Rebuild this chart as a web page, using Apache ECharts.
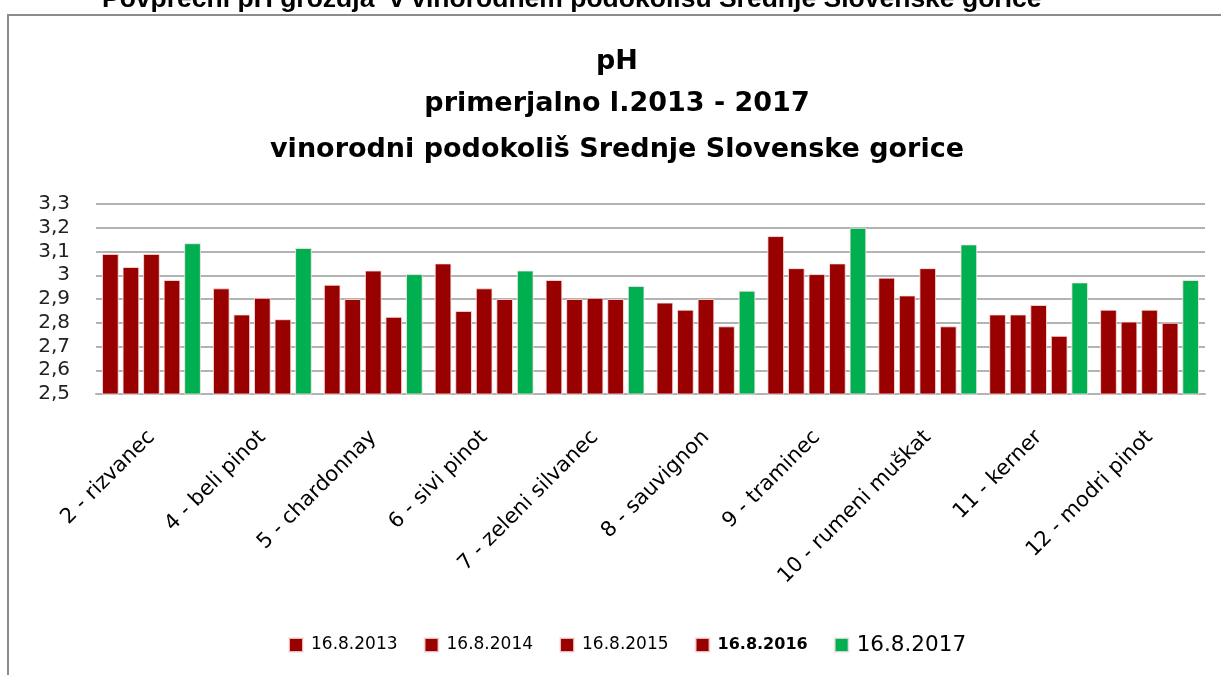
<!DOCTYPE html>
<html>
<head>
<meta charset="utf-8">
<script src="https://cdn.jsdelivr.net/npm/echarts@6/dist/echarts.min.js"></script>
<style>html,body{margin:0;padding:0;background:#fff;}#c{width:1221px;height:675px;}</style>
</head>
<body>
<div id="c"></div>
<script>
const categories = ['2 - rizvanec','4 - beli pinot','5 - chardonnay','6 - sivi pinot','7 - zeleni silvanec','8 - sauvignon','9 - traminec','10 - rumeni muškat','11 - kerner','12 - modri pinot'];
const seriesNames = ['16.8.2013','16.8.2014','16.8.2015','16.8.2016','16.8.2017'];
const v2013 = [3.09, 2.945, 2.96, 3.05, 2.98, 2.885, 3.165, 2.99, 2.835, 2.855];
const v2014 = [3.035, 2.835, 2.90, 2.85, 2.90, 2.855, 3.03, 2.915, 2.835, 2.805];
const v2015 = [3.09, 2.905, 3.02, 2.945, 2.905, 2.90, 3.005, 3.03, 2.875, 2.855];
const v2016 = [2.98, 2.815, 2.825, 2.90, 2.90, 2.785, 3.05, 2.785, 2.745, 2.80];
const v2017 = [3.135, 3.115, 3.005, 3.02, 2.955, 2.935, 3.20, 3.13, 2.97, 2.98];
const seriesValues = [v2013, v2014, v2015, v2016, v2017];
const seriesColors = ['#990000','#990000','#990000','#990000','#00B050'];
const titleLines = ['pH','primerjalno l.2013 - 2017','vinorodni podokoliš Srednje Slovenske gorice'];
const pageHeading = 'Povprečni pH grozdja  v vinorodnem podokolišu Srednje Slovenske gorice';

const chart = echarts.init(document.getElementById('c'), null, {renderer:'canvas'});
const FONT = 'DejaVu Sans';
const option = {
  animation: false,
  backgroundColor: '#fff',
  graphic: [
    {type:'text', x:102, y:13, style:{text:pageHeading, font:'bold 26.5px "Liberation Sans"', fill:'#000', textVerticalAlign:'bottom'}, z:0},
    {type:'rect', shape:{x:8,y:15,width:1400,height:900}, style:{fill:'#fff', stroke:'#8c8c8c', lineWidth:2}, z:-1, silent:true},
    {type:'text', x:617, y:62, style:{text:titleLines[0], font:'bold 27px "DejaVu Sans"', fill:'#000', textAlign:'center', textVerticalAlign:'middle'}},
    {type:'text', x:617, y:104, style:{text:titleLines[1], font:'bold 27px "DejaVu Sans"', fill:'#000', textAlign:'center', textVerticalAlign:'middle'}},
    {type:'text', x:617, y:150, style:{text:titleLines[2], font:'bold 27px "DejaVu Sans"', fill:'#000', textAlign:'center', textVerticalAlign:'middle'}}
  ],
  grid: {left:96, right:16, top:204, bottom:281, containLabel:false},
  legend: {
    left: 283, top: 629,
    icon: 'rect', itemWidth: 14, itemHeight: 14, itemGap: 26,
    data: seriesNames,
    formatter: function(name){ return '{s' + seriesNames.indexOf(name) + '|' + name + '}'; },
    textStyle: {
      fontFamily: FONT, color:'#000',
      rich: {
        s0:{fontSize:17, fontFamily:FONT, padding:[0,0,0,3]},
        s1:{fontSize:17, fontFamily:FONT, padding:[0,0,0,3]},
        s2:{fontSize:17, fontFamily:FONT, padding:[0,0,0,3]},
        s3:{fontSize:16, fontFamily:FONT, fontWeight:'bold', padding:[0,0,0,3]},
        s4:{fontSize:21.5, fontFamily:FONT, padding:[0,0,0,3]}
      }
    }
  },
  xAxis: {
    type:'category', data: categories,
    axisLine:{show:true, lineStyle:{color:'#b3b3b3', width:2}},
    axisTick:{show:false},
    axisLabel:{interval:0, rotate:45, margin:40, fontFamily:FONT, fontSize:21, color:'#000'}
  },
  yAxis: {
    type:'value', min:2.5, max:3.3, interval:0.1,
    axisLine:{show:false}, axisTick:{show:false},
    splitLine:{lineStyle:{color:'#b3b3b3', width:2}},
    axisLabel:{margin:26, fontFamily:FONT, fontSize:20, color:'#222',
      formatter:function(v){ return String(+v.toFixed(1)).replace('.', ','); }}
  },
  series: seriesNames.map(function(n, i){
    return {
      name:n, type:'bar', data: seriesValues[i],
      barWidth: 16.7, barGap:'23%',
      itemStyle:{color:seriesColors[i], borderColor:'rgba(255,230,230,0.8)', borderWidth:1}
    };
  })
};
chart.setOption(option);
</script>
</body>
</html>
